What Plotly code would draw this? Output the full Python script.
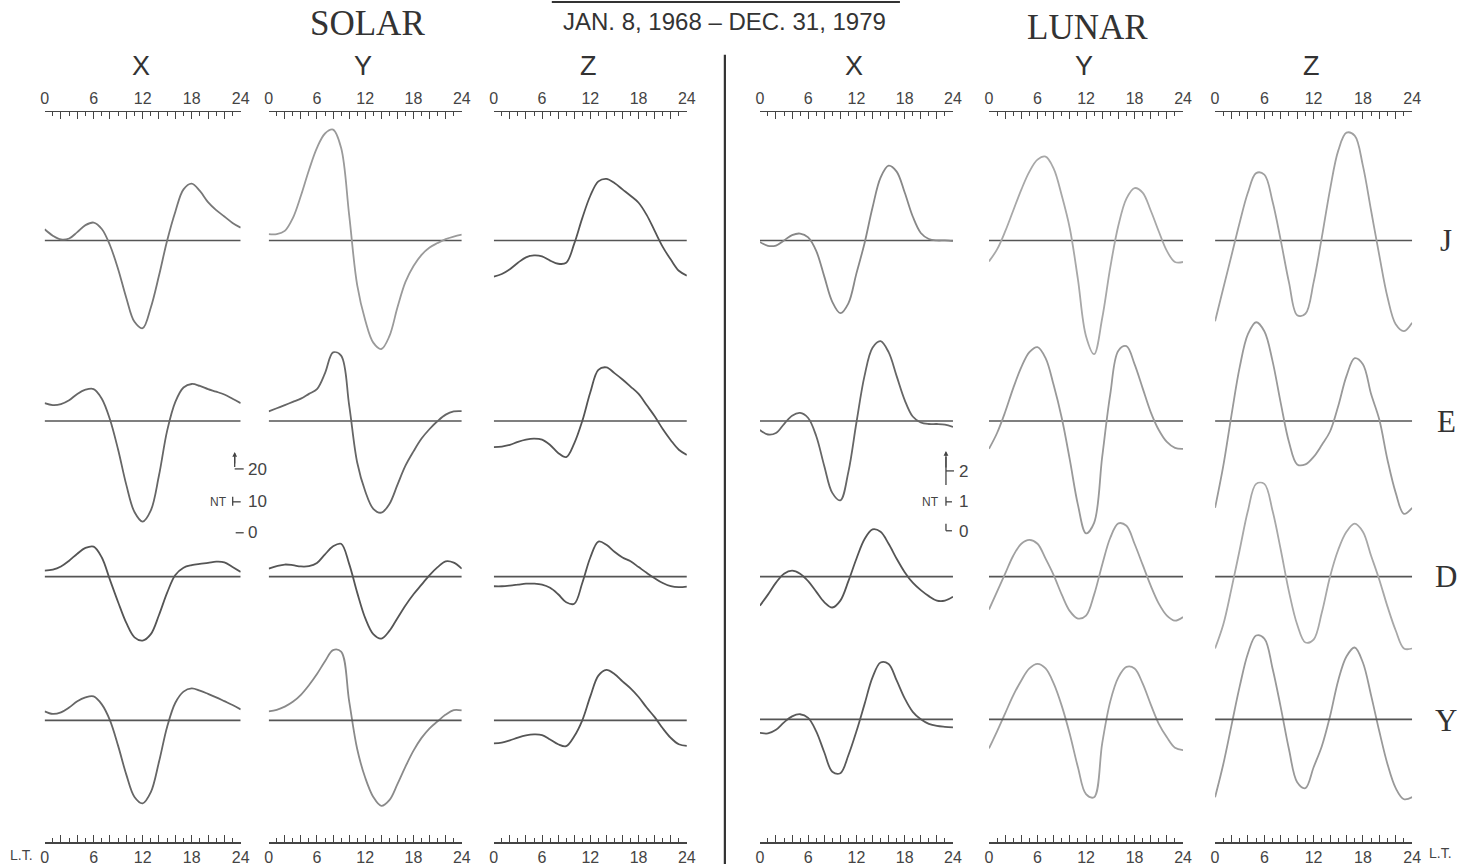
import plotly.graph_objects as go

W, H = 1458, 866

# ---------------- data (nT), hourly local time 0..24 ----------------
HOURS = list(range(25))
COMPONENTS = ["X", "Y", "Z"]
ROW_LABELS = ["J", "E", "D", "Y"]
TICK_VALS = list(range(0, 25, 2))
TICK_TEXT = ["0", "", "", "6", "", "", "12", "", "", "18", "", "", "24"]
SOLAR_SCALE_LABELS = ["20", "10", "0"]
LUNAR_SCALE_LABELS = ["2", "1", "0"]

# Solar daily variation
SX_J = [3.5, 1.5, 0.3, 0.6, 2.6, 4.8, 5.6, 3.6, -1.5, -9, -18, -25.5, -27.5, -21, -11, 0, 9, 16, 17.8, 15.5, 12, 9.5, 7.5, 5.5, 4]
SX_E = [5.6, 5.0, 5.3, 6.5, 8.5, 9.8, 10, 7, 0.5, -9, -20, -28.5, -31.5, -28, -17, -3, 6, 10.5, 11.6, 11, 10, 9.2, 8.3, 7, 5.6]
SX_D = [1.9, 2.2, 3.2, 5, 7.2, 9, 9.4, 6, -1, -8, -14.5, -19, -20, -18, -12, -5, 0.5, 2.8, 3.6, 4, 4.3, 4.7, 4.5, 3, 1.5]
SX_Y = [2.8, 2, 2.5, 4, 6, 7.2, 7.5, 5, 0, -8, -17, -24, -26, -22.5, -13, -2, 5.5, 9, 10, 9.3, 8.3, 7.2, 6, 4.8, 3.4]

SY_J = [2, 2, 3, 7, 14, 22, 29, 33.5, 34.7, 29, 8, -14, -25, -32, -34, -30, -21, -13, -8, -4.5, -2.2, -0.8, 0.4, 1.2, 1.8]
SY_E = [3, 4, 5, 6, 7, 8.5, 10, 15, 21.5, 20.5, 5, -13, -22, -27.5, -28.7, -26, -20, -14, -9.5, -5.5, -2.5, 0, 2, 3, 3.1]
SY_D = [2.5, 3.3, 3.8, 3.6, 3.2, 3.3, 4.3, 7, 9.5, 10.3, 4, -5, -13, -18, -19.4, -17, -13, -9, -5.5, -2.5, 0.5, 3, 4.8, 4.4, 2.5]
SY_Y = [2.8, 3.3, 4.3, 5.8, 8, 11, 14.5, 18.5, 22, 21.5, 6, -9, -18, -24, -26.8, -25, -20, -14.5, -9.5, -5.5, -2.5, -0.3, 1.8, 3.2, 3.1]

SZ_J = [-11.3, -10.5, -9, -7, -5.3, -4.7, -5, -6.3, -7.3, -7, -1, 7, 14, 18.5, 19.3, 18, 16, 14, 11.8, 8, 3, -2, -6, -9.5, -11]
SZ_E = [-8.2, -8, -7.5, -6.5, -5.8, -5.5, -5.8, -7.5, -10, -11.3, -7, 0, 9, 16, 16.8, 15, 13, 10.8, 8.5, 5, 1.5, -2.5, -6, -9, -10.6]
SZ_D = [-3, -3, -2.8, -2.5, -2.2, -2.2, -2.5, -3.5, -5.5, -8, -8.5, -2, 6, 11, 10, 7.8, 6, 4.8, 3, 1.2, -0.5, -2, -3, -3.3, -3.1]
SZ_Y = [-7.2, -7, -6.3, -5.4, -4.7, -4.4, -4.6, -6, -7.5, -8.1, -5, 0, 7.5, 14, 15.8, 14.5, 12.2, 10, 7.3, 4, 1, -2.5, -5.5, -7.5, -8]

# Lunar daily variation
LX_J = [-0.05, -0.18, -0.17, 0, 0.18, 0.23, 0.1, -0.35, -1.2, -2.05, -2.43, -2.1, -1.1, -0.1, 1.1, 2.1, 2.5, 2.3, 1.6, 0.8, 0.25, 0.05, 0, 0, -0.02]
LX_E = [-0.3, -0.45, -0.4, -0.1, 0.18, 0.27, 0.1, -0.5, -1.5, -2.4, -2.65, -1.7, -0.05, 1.5, 2.45, 2.67, 2.3, 1.5, 0.7, 0.15, -0.05, -0.1, -0.1, -0.12, -0.2]
LX_D = [-0.97, -0.6, -0.2, 0.1, 0.2, 0.1, -0.15, -0.5, -0.85, -1.03, -0.8, -0.15, 0.6, 1.25, 1.58, 1.5, 1.1, 0.6, 0.15, -0.2, -0.45, -0.65, -0.8, -0.8, -0.67]
LX_Y = [-0.45, -0.47, -0.35, -0.1, 0.1, 0.17, 0.05, -0.4, -1.1, -1.75, -1.8, -1.2, -0.4, 0.5, 1.4, 1.9, 1.85, 1.3, 0.7, 0.25, 0, -0.15, -0.22, -0.25, -0.27]

LY_J = [-0.7, -0.3, 0.3, 1.0, 1.7, 2.3, 2.7, 2.8, 2.4, 1.5, 0.4, -1.3, -3.2, -3.8, -2.6, -0.9, 0.5, 1.4, 1.75, 1.6, 1.0, 0.3, -0.35, -0.72, -0.72]
LY_E = [-0.93, -0.4, 0.3, 1.1, 1.8, 2.3, 2.47, 2.1, 1.2, 0.1, -1.3, -2.8, -3.75, -3.4, -1.2, 0.9, 2.35, 2.5, 1.9, 1.1, 0.3, -0.3, -0.7, -0.9, -0.93]
LY_D = [-1.1, -0.5, 0.1, 0.7, 1.1, 1.23, 1.1, 0.6, 0.05, -0.6, -1.15, -1.4, -1.3, -0.6, 0.4, 1.3, 1.78, 1.7, 1.1, 0.4, -0.3, -0.9, -1.3, -1.47, -1.35]
LY_Y = [-0.97, -0.4, 0.2, 0.8, 1.3, 1.7, 1.85, 1.7, 1.2, 0.45, -0.5, -1.6, -2.5, -2.6, -0.8, 0.6, 1.4, 1.75, 1.7, 1.2, 0.5, -0.15, -0.6, -0.95, -1.03]

LZ_J = [-2.7, -1.6, -0.5, 0.6, 1.6, 2.25, 2.2, 1.3, 0, -1.4, -2.5, -2.45, -1.4, 0.1, 1.7, 3.0, 3.6, 3.5, 2.5, 1.0, -0.5, -1.9, -2.8, -3.03, -2.75]
LZ_E = [-2.9, -1.5, 0.2, 1.8, 2.9, 3.3, 3.0, 2.0, 0.6, -0.7, -1.45, -1.45, -1.2, -0.8, -0.35, 0.5, 1.5, 2.1, 1.9, 0.9, 0.05, -1.3, -2.4, -3.1, -2.9]
LZ_D = [-2.4, -1.6, -0.4, 0.9, 2.2, 3.1, 3.1, 2.2, 0.9, -0.5, -1.6, -2.2, -2.1, -1.2, 0, 0.9, 1.5, 1.77, 1.5, 0.7, -0.1, -1.0, -1.8, -2.4, -2.4]
LZ_Y = [-2.6, -1.5, -0.2, 1.1, 2.2, 2.8, 2.7, 1.7, 0.4, -1.0, -2.1, -2.3, -1.6, -0.9, 0.1, 1.3, 2.1, 2.4, 1.9, 0.8, -0.4, -1.5, -2.3, -2.67, -2.6]

SOLAR = {"X": [SX_J, SX_E, SX_D, SX_Y], "Y": [SY_J, SY_E, SY_D, SY_Y], "Z": [SZ_J, SZ_E, SZ_D, SZ_Y]}
LUNAR = {"X": [LX_J, LX_E, LX_D, LX_Y], "Y": [LY_J, LY_E, LY_D, LY_Y], "Z": [LZ_J, LZ_E, LZ_D, LZ_Y]}

# ---------------- layout geometry (pixels) ----------------
COL_PX = [(45, 241), (269, 462), (494, 687), (760, 953), (989, 1183), (1215, 1412)]
BASE_SOLAR = [241, 422, 578, 722]
BASE_LUNAR = [241, 422, 578, 721]
PX_PER_NT_SOLAR = 3.2
PX_PER_NT_LUNAR = 30.0
TOP_AXIS_PY = 111
BOT_AXIS_PY = 844
# horizontal compensation for the capture (measured)
CAP_X_OFF, CAP_X_SCALE = 4.4, 0.9907

CURVE_COLORS = {
    ("S", "X"): ["#777", "#666", "#555", "#666"],
    ("S", "Y"): ["#9a9a9a", "#666", "#555", "#8a8a8a"],
    ("S", "Z"): ["#555", "#555", "#555", "#555"],
    ("L", "X"): ["#888", "#666", "#555", "#5a5a5a"],
    ("L", "Y"): ["#a8a8a8", "#999", "#a0a0a0", "#a0a0a0"],
    ("L", "Z"): ["#a0a0a0", "#999", "#a8a8a8", "#999"],
}


def px(x):
    return ((x - CAP_X_OFF) / CAP_X_SCALE) / W


def py(y):
    return 1 - y / H


def xid(n):
    return "x" if n == 1 else f"x{n}"


def xkey(n):
    return "xaxis" if n == 1 else f"xaxis{n}"


def yid(n):
    return "y" if n == 1 else f"y{n}"


def ykey(n):
    return "yaxis" if n == 1 else f"yaxis{n}"


fig = go.Figure()
layout = {}

axis_common = dict(
    range=[0, 24], tickmode="array", tickvals=TICK_VALS, ticktext=TICK_TEXT,
    ticks="inside", ticklen=7, tickwidth=1, tickcolor="#444",
    showline=True, linecolor="#444", linewidth=1.5,
    showgrid=False, zeroline=False, fixedrange=True,
    tickfont=dict(family="Liberation Sans, Arial, sans-serif", size=16, color="#444"),
    minor=dict(tickmode="linear", tick0=0, dtick=1, ticks="inside", ticklen=4,
               tickwidth=1, tickcolor="#444", showgrid=False),
)

for c, (x0, x1) in enumerate(COL_PX):
    n_top, n_bot = c + 1, c + 7
    layout[xkey(n_top)] = dict(domain=[px(x0), px(x1)], anchor="free",
                               position=py(TOP_AXIS_PY), side="top", **axis_common)
    layout[xkey(n_bot)] = dict(overlaying=xid(n_top), anchor="free",
                               position=py(BOT_AXIS_PY), side="bottom", **axis_common)

for r in range(4):
    for half, bases, ppn, off in (("S", BASE_SOLAR, PX_PER_NT_SOLAR, 1), ("L", BASE_LUNAR, PX_PER_NT_LUNAR, 5)):
        b = bases[r]
        layout[ykey(r + off)] = dict(domain=[0, 1], range=[(b - H) / ppn, b / ppn],
                                     visible=False, anchor="free", position=0,
                                     fixedrange=True, showgrid=False, zeroline=False)

for c in range(6):
    half = "S" if c < 3 else "L"
    comp = COMPONENTS[c % 3]
    data = SOLAR[comp] if half == "S" else LUNAR[comp]
    for r in range(4):
        yn = r + 1 if half == "S" else r + 5
        xa = xid(c + 7) if r == 3 else xid(c + 1)
        # zero baseline
        fig.add_trace(go.Scatter(x=[HOURS[0], HOURS[-1]], y=[0, 0], mode="lines",
                                 line=dict(color="#555", width=1.6),
                                 xaxis=xa, yaxis=yid(yn), hoverinfo="skip"))
        fig.add_trace(go.Scatter(x=HOURS, y=data[r], mode="lines",
                                 line=dict(color=CURVE_COLORS[(half, comp)][r], width=1.8,
                                           shape="spline", smoothing=1.0),
                                 xaxis=xid(c + 1), yaxis=yid(yn),
                                 name=f"{half} {comp} {ROW_LABELS[r]}"))

annotations = []


def txt(text, x, y, size, family="Liberation Sans, Arial, sans-serif", color="#333", xanchor="center"):
    annotations.append(dict(text=text, x=px(x), y=py(y), xref="paper", yref="paper",
                            showarrow=False, xanchor=xanchor, yanchor="middle",
                            font=dict(family=family, size=size, color=color)))


SERIF = "Liberation Serif, DejaVu Serif, serif"
txt("SOLAR", 368, 24, 35, family=SERIF)
txt("LUNAR", 1087, 28, 35, family=SERIF)
txt("JAN. 8, 1968 \u2013 DEC. 31, 1979", 725, 22, 24)
for c, (x0, x1) in enumerate(COL_PX):
    txt(COMPONENTS[c % 3], (x0 + x1) / 2 - 2, 66, 27)
for r, lab in enumerate(ROW_LABELS):
    txt(lab, 1446, BASE_SOLAR[r], 31, family=SERIF)
txt("L.T.", 8, 857, 14, xanchor="left", color="#444")
txt("L.T.", 1427, 855, 14, xanchor="left", color="#444")

# scale bars
for lab, yy in zip(SOLAR_SCALE_LABELS, [471, 503, 534]):
    txt(lab, 246, yy, 17, xanchor="left", color="#444")
txt("NT", 219, 503, 12, color="#444")
for lab, yy in zip(LUNAR_SCALE_LABELS, [473, 503, 533]):
    txt(lab, 957, yy, 17, xanchor="left", color="#444")
txt("NT", 931, 503, 12, color="#444")

shapes = []


def seg(xa, ya, xb, yb, width=1.3, color="#444"):
    shapes.append(dict(type="line", xref="paper", yref="paper", x0=px(xa), y0=py(ya),
                       x1=px(xb), y1=py(yb), line=dict(color=color, width=width)))


# divider and overline
seg(725, 55, 725, 866, width=2.2, color="#333")
seg(552, 2, 900, 2, width=2, color="#333")
# solar scale bar
seg(235, 458, 235, 468)
seg(235, 470, 244, 470)
seg(233, 498, 233, 507)
seg(233, 503, 241, 503)
seg(236, 534, 244, 534)
# lunar scale bar
seg(946, 458, 946, 486)
seg(946, 472, 954, 472)
seg(946, 498, 946, 507)
seg(946, 503, 952, 503)
seg(946, 525, 946, 532)
seg(946, 532, 952, 532)

for xa_, ya_, tail in ((235, 453, 13), (946, 452, 18)):
    annotations.append(dict(x=px(xa_), y=py(ya_), xref="paper", yref="paper",
                            ax=0, ay=tail, axref="pixel", ayref="pixel",
                            showarrow=True, arrowhead=2, arrowsize=0.8,
                            arrowwidth=1.2, arrowcolor="#444", text=""))

fig.update_layout(
    width=W, height=H, margin=dict(l=0, r=0, t=0, b=0),
    paper_bgcolor="white", plot_bgcolor="rgba(0,0,0,0)",
    showlegend=False, annotations=annotations, shapes=shapes, **layout,
)

fig.write_html(
    "out.html",
    config={"displayModeBar": False, "staticPlot": True},
    post_script="document.documentElement.style.margin='0';document.documentElement.style.overflow='hidden';"
                "document.body.style.margin='0';document.body.style.padding='0';document.body.style.overflow='hidden';",
)
